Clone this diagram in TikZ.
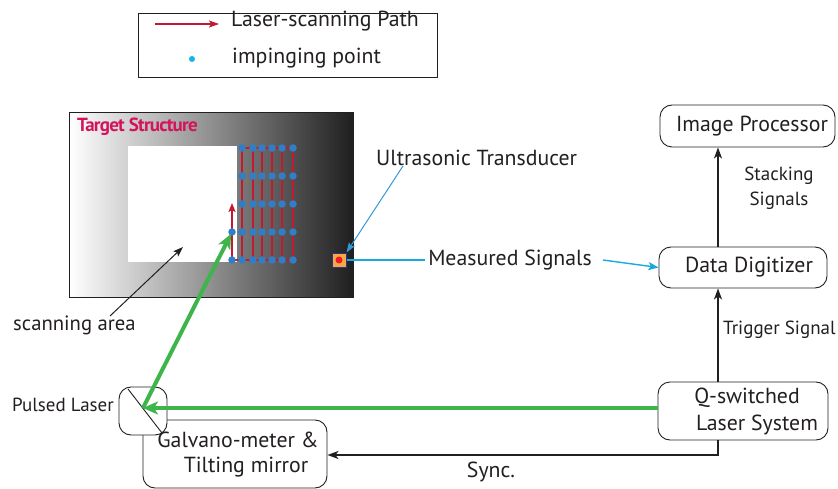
\documentclass[tikz,border=0pt]{standalone}
\usepackage{fontspec}
\setmainfont{PT Sans}
\usetikzlibrary{arrows.meta,calc}

\definecolor{laserred}{HTML}{C21A30}
\definecolor{dotblue}{HTML}{2F7FC8}
\definecolor{legcyan}{HTML}{1AB2EA}
\definecolor{sigcyan}{HTML}{19A9E1}
\definecolor{utblue}{HTML}{3399D6}
\definecolor{lasergreen}{HTML}{3DB54A}
\definecolor{titlepink}{HTML}{D4145A}
\definecolor{tdorange}{HTML}{F7A941}
\definecolor{tdnavy}{HTML}{2E3192}
\definecolor{tdred}{HTML}{ED1C24}
\definecolor{edge}{HTML}{231F20}

\tikzset{
  blk/.style={draw=edge, line width=0.9pt, rounded corners=12pt},
  lbl/.style={font=\fontsize{21.8}{25}\selectfont, text=edge, inner sep=0pt},
  smalllbl/.style={font=\fontsize{19}{25}\selectfont, text=edge, inner sep=0pt},
  sigarrow/.style={draw=edge, line width=1.6pt, -{Stealth[length=11pt,width=8pt,inset=3pt]}},
  scanpath/.style={draw=laserred, line width=1.5pt},
  hit/.style={circle, fill=dotblue, inner sep=0pt, minimum size=7.5pt},
  beam/.style={draw=lasergreen, line width=4pt, -{Stealth[length=15pt,width=13pt,inset=4pt]}},
}

\begin{document}
\begin{tikzpicture}[x=1pt,y=-1pt]
\useasboundingbox (0,0) rectangle (838,489);

% ---------- legend ----------
\node (legend) [draw=edge, line width=0.9pt, minimum width=299pt, minimum height=64pt,
  anchor=north west, inner sep=0pt] at (138,13) {};
\coordinate (la1) at (155,24);
\coordinate (la2) at (219,24);
\draw[laserred, line width=1.4pt, -{Stealth[length=10pt,width=7pt,inset=2pt]}] (la1) -- (la2);
\node (legpath) [lbl, anchor=west] at (231,21) {Laser-scanning Path};
\node (legdot) [circle, fill=legcyan, inner sep=0pt, minimum size=6pt] at (192,59) {};
\node (leghit) [lbl, anchor=west] at (232,58) {impinging point};

% ---------- target structure ----------
\node (target) [draw=edge, line width=0.9pt, left color=white, right color=black!88,
  minimum width=284pt, minimum height=185pt, anchor=north west, inner sep=0pt] at (69,112) {};
\fill[white] (128,146) rectangle (237,262);
\node (ttl) [anchor=west, inner sep=0pt, text=titlepink,
  font=\fontsize{19}{22}\selectfont\bfseries] at (77,127) {\addfontfeature{LetterSpace=-4}Target Structure};

% scanning grid: raster lines
\foreach \x in {242,253,262,272,282,293}
  \draw[scanpath] (\x,148) -- (\x,260);
\draw[scanpath] (242,148) -- (293,148);
\draw[scanpath] (232,260) -- (293,260);
\draw[laserred, line width=1.5pt, -{Stealth[length=9pt,width=7pt,inset=2pt]}] (232,260) -- (232,203);

% impinging points
\foreach \x [count=\i] in {242,253,262,272,282,293}
  \foreach \y [count=\j] in {148,176,204,232,260}
    \node (p\i-\j) [hit] at (\x,\y) {};
\node (p0-4) [hit] at (232,232) {};
\node (p0-5) [hit] at (232,260) {};

% ultrasonic transducer
\node (td) [draw=tdnavy, fill=tdorange, line width=1pt, minimum size=14pt, inner sep=0pt] at (339,260) {};
\node (tdcore) [circle, fill=tdred, inner sep=0pt, minimum size=7pt] at (td.center) {};

\node (ut) [lbl, anchor=west] at (376,158) {Ultrasonic Transducer};
\coordinate (uttail) at (403,166);
\draw[utblue, line width=1pt, -{Stealth[length=10pt,width=7pt,inset=2pt]}] (uttail) -- (td.north east);

\node (scan) [lbl, font=\fontsize{20.7}{25}\selectfont, anchor=west] at (13,325) {scanning area};
\coordinate (scantail) at (110,316);
\coordinate (scantip) at (183,247);
\draw[edge, line width=1pt, -{Stealth[length=10pt,width=7pt,inset=2pt]}] (scantail) -- (scantip);

% ---------- processing chain ----------
\node (ip) [blk, minimum width=175pt, minimum height=42pt] at (747.5,126) {};
\node (iptxt) [lbl] at (752,126) {Image Processor};
\node (dd) [blk, minimum width=168pt, minimum height=41pt] at (743,267.5) {};
\node (ddtxt) [lbl] at (749,267) {Data Digitizer};
\node (qs) [blk, minimum width=170pt, minimum height=58pt] at (743,411) {};
\node (qstxt1) [lbl] at (747,398) {Q-switched};
\node (qstxt2) [lbl] at (757,425) {Laser System};

\coordinate (ax) at (718,0);
\draw[sigarrow] (ax |- dd.north) -- (ax |- ip.south);
\draw[sigarrow] (ax |- qs.north) -- (ax |- dd.south);
\node (stack) [smalllbl, align=center] at (779,188) {Stacking\\Signals};
\node (trig) [smalllbl, anchor=west] at (723,330) {Trigger Signal};

% measured signal path
\node (ms) [lbl] at (510,260) {Measured Signals};
\draw[sigcyan, line width=1.4pt] (td.east) -- ([xshift=-3pt]ms.west);
\draw[sigcyan, line width=1.4pt, -{Stealth[length=10pt,width=8pt,inset=2pt]}]
  ([xshift=11pt]ms.east) -- (dd.west);

% ---------- galvanometer & mirror ----------
\node (gal) [blk, minimum width=184pt, minimum height=68pt] at (235,454) {};
\node (galtxt1) [lbl] at (238,440) {Galvano-meter \&};
\node (galtxt2) [lbl] at (246,467) {Tilting mirror};
\node (mir) [blk, fill=white, minimum width=48pt, minimum height=48pt, inner sep=0pt] at (143,411) {};
\draw[edge, line width=0.9pt] (128,389) -- (162,433);
\coordinate (mc) at (143,408);
\node (pulsed) [smalllbl, anchor=east] at (114,405) {Pulsed Laser};

% sync line
\coordinate (sy) at (0,455);
\draw[sigarrow] (ax |- qs.south) -- (ax |- sy) -- (gal.east |- sy);
\node (sync) [lbl] at (491,472) {Sync.};

% laser beams
\draw[beam] (qs.west |- mc) -- (mc);
\draw[beam, shorten >=2pt] (mc) -- (p0-4.center);

\end{tikzpicture}
\end{document}
